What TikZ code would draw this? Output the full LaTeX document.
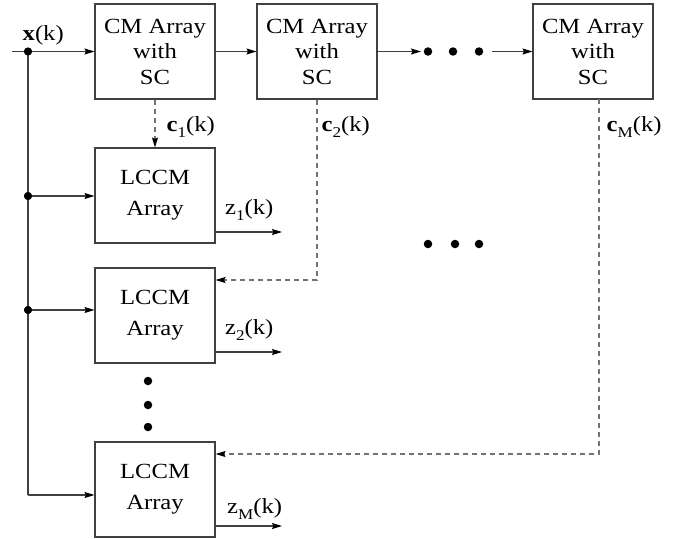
\documentclass[tikz,border=0pt]{standalone}
\usepackage{fontspec}
\setmainfont{Liberation Serif}[FakeStretch=1.14]
\usetikzlibrary{arrows.meta}
\newcommand{\lowsub}[1]{\raisebox{-0.32em}{\fontsize{15}{15}\selectfont #1}}
\tikzset{
  every picture/.style={x=1pt,y=-1pt},
  lne/.style={draw=black!75, line width=1.1pt},
  arr/.style={lne, -{Stealth[length=10pt,width=6pt,inset=1.5pt,black]}},
  dsh/.style={draw=black!55, line width=1.1pt, dash pattern=on 5pt off 4pt},
  darr/.style={dsh, -{Stealth[length=10pt,width=6pt,inset=1.5pt,black]}},
  cmbox/.style={draw=black!75, line width=1.1pt, minimum width=120pt, minimum height=95pt,
    inner sep=0pt, align=center, font=\fontsize{21.6}{25.5}\selectfont},
  lcbox/.style={draw=black!75, line width=1.1pt, minimum width=120pt, minimum height=95pt,
    inner sep=0pt, align=center, font=\fontsize{21.6}{31}\selectfont},
  lbl/.style={inner sep=0pt, anchor=base west, font=\fontsize{21.6}{25}\selectfont},
  bigdot/.style={circle, fill=black, inner sep=0pt, minimum size=8.5pt},
  jdot/.style={circle, fill=black, inner sep=0pt, minimum size=8pt},
}
\begin{document}
\begin{tikzpicture}
\useasboundingbox (0,0) rectangle (684,538);
% top boxes
\node[cmbox] (cm1) at (155,51.5) {CM Array\\with\\SC};
\node[cmbox] (cm2) at (317,51.5) {CM Array\\with\\SC};
\node[cmbox] (cm3) at (593,51.5) {CM Array\\with\\SC};
% lower boxes
\node[lcbox] (lc1) at (155,195.5) {LCCM\\Array};
\node[lcbox] (lc2) at (155,315.5) {LCCM\\Array};
\node[lcbox] (lcm) at (155,489.5) {LCCM\\Array};
% input
\coordinate (in) at (12,51.5);
\node[jdot] (j0) at (28,51.5) {};
\node[jdot] (j1) at (28,196) {};
\node[jdot] (j2) at (28,310) {};
\coordinate (jm) at (28,495);
\draw[lne] (in) -- (j0.center);
\draw[arr] (j0.center) -- (cm1.west);
\draw[lne] (j0.center) -- (jm);
\draw[arr] (j1.center) -- (j1.center -| lc1.west);
\draw[arr] (j2.center) -- (j2.center -| lc2.west);
\draw[arr] (jm) -- (jm -| lcm.west);
\node[jdot] at (j0) {};
\node[jdot] at (j1) {};
\node[jdot] at (j2) {};
\node[lbl] (xl) at (22.5,40) {\textbf{x}(k)};
% chain
\draw[arr] (cm1.east) -- (cm2.west);
\coordinate (a2) at (421,51.5);
\node[bigdot] (d1) at (428,51.5) {};
\node[bigdot] (d2) at (453,51.5) {};
\node[bigdot] (d3) at (479,51.5) {};
\coordinate (a3) at (492,51.5);
\draw[arr] (cm2.east) -- (a2);
\draw[arr] (a3) -- (cm3.west);
% middle dots
\node[bigdot] (m1) at (428,244) {};
\node[bigdot] (m2) at (455,244) {};
\node[bigdot] (m3) at (479,244) {};
% vertical dots
\node[bigdot] (v1) at (148,381) {};
\node[bigdot] (v2) at (148,405) {};
\node[bigdot] (v3) at (148,427) {};
% dashed control lines
\draw[darr] (cm1.south) -- (lc1.north);
\coordinate (c2c) at (317,280);
\draw[darr] (cm2.south) -- (c2c) -- (c2c -| lc2.east);
\coordinate (cmt) at (599,99);
\coordinate (cmc) at (599,454);
\draw[darr] (cmt) -- (cmc) -- (cmc -| lcm.east);
\node[lbl] (c1l) at (166.5,131) {\textbf{c}\lowsub{1}(k)};
\node[lbl] (c2l) at (321.5,131) {\textbf{c}\lowsub{2}(k)};
\node[lbl] (cml) at (606.5,131) {\textbf{c}\lowsub{M}(k)};
% outputs
\coordinate (o1) at (282,232);
\coordinate (o2) at (282,352);
\coordinate (om) at (282,526);
\draw[arr] (o1 -| lc1.east) -- (o1);
\draw[arr] (o2 -| lc2.east) -- (o2);
\draw[arr] (om -| lcm.east) -- (om);
\node[lbl] (z1l) at (225,214) {z\lowsub{1}(k)};
\node[lbl] (z2l) at (225,334) {z\lowsub{2}(k)};
\node[lbl] (zml) at (227,513) {z\lowsub{M}(k)};
\end{tikzpicture}
\end{document}
